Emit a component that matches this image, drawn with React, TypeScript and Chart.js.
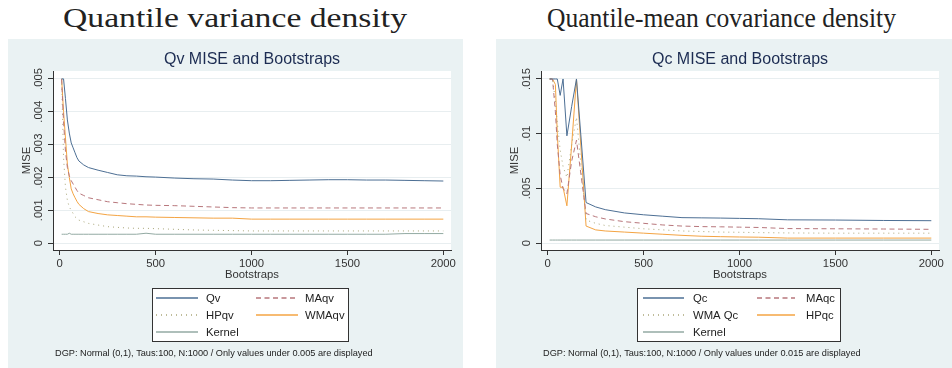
import React, { useEffect, useRef } from 'react';
import { Chart, registerables } from 'chart.js';

Chart.register(...registerables);

const SANS = '"Liberation Sans", Arial, sans-serif';

// ---------- Data: left panel (Quantile variance density) ----------
const bootstrapsLeft = [10, 20, 30, 40, 50, 60, 70, 80, 90, 100, 125, 150, 200, 250, 300, 350, 400, 450, 500, 600, 700, 800, 900, 1000, 1100, 1200, 1300, 1400, 1500, 1600, 1700, 1800, 1900, 2000];
const qv = [0.005, 0.005, 0.0044, 0.00375, 0.00335, 0.00305, 0.0029, 0.00275, 0.0026, 0.0025, 0.00238, 0.0023, 0.00222, 0.00215, 0.00208, 0.00205, 0.00204, 0.00202, 0.00201, 0.00198, 0.00196, 0.00195, 0.00192, 0.0019, 0.0019, 0.00191, 0.00192, 0.00193, 0.00193, 0.00192, 0.00192, 0.00191, 0.0019, 0.00189];
const maqv = [0.005, 0.0037, 0.0028, 0.0023, 0.00205, 0.0019, 0.0018, 0.0017, 0.0016, 0.00152, 0.00145, 0.00138, 0.00132, 0.00126, 0.00123, 0.0012, 0.00118, 0.00116, 0.00115, 0.00114, 0.00112, 0.0011, 0.00108, 0.00107, 0.00107, 0.00107, 0.00107, 0.00107, 0.00107, 0.00107, 0.00107, 0.00107, 0.00107, 0.00107];
const hpqv = [0.005, 0.0026, 0.0017, 0.0013, 0.0011, 0.001, 0.0009, 0.0008, 0.00075, 0.0007, 0.00065, 0.0006, 0.00055, 0.0005, 0.00048, 0.00046, 0.00045, 0.00045, 0.00044, 0.00042, 0.0004, 0.00039, 0.00038, 0.00037, 0.00037, 0.00037, 0.00037, 0.00037, 0.00037, 0.00037, 0.00037, 0.00037, 0.00037, 0.00037];
const wmaqv = [0.005, 0.004, 0.0032, 0.0024, 0.002, 0.00165, 0.0015, 0.00138, 0.00127, 0.00118, 0.00105, 0.00096, 0.0009, 0.00086, 0.00084, 0.00082, 0.0008, 0.0008, 0.00079, 0.00078, 0.00077, 0.00076, 0.00076, 0.00073, 0.00073, 0.00073, 0.00073, 0.00073, 0.00073, 0.00073, 0.00073, 0.00073, 0.00073, 0.00073];
const kernelLeft = [0.00027, 0.00027, 0.00027, 0.00027, 0.0003, 0.00027, 0.00027, 0.00027, 0.00027, 0.00027, 0.00027, 0.00027, 0.00027, 0.00027, 0.00027, 0.00027, 0.00027, 0.0003, 0.00027, 0.00027, 0.00027, 0.00027, 0.00027, 0.00027, 0.00027, 0.00027, 0.00027, 0.00027, 0.00027, 0.00027, 0.00027, 0.00029, 0.00029, 0.00029];
const yTicksLeft = [0, 0.001, 0.002, 0.003, 0.004, 0.005];

// ---------- Data: right panel (Quantile-mean covariance density) ----------
const bootstrapsRight = [10, 25, 40, 50, 65, 80, 100, 125, 150, 200, 250, 300, 400, 500, 600, 700, 800, 900, 1000, 1100, 1250, 1500, 1750, 2000];
const qc = [0.015, 0.015, 0.015, 0.015, 0.0135, 0.015, 0.0098, 0.0125, 0.015, 0.0037, 0.0033, 0.00305, 0.00275, 0.00258, 0.00245, 0.00232, 0.0023, 0.00228, 0.00225, 0.00222, 0.00212, 0.0021, 0.00206, 0.00204];
const maqc = [0.015, 0.015, 0.012, 0.009, 0.0062, 0.005, 0.0045, 0.0075, 0.0094, 0.0027, 0.0024, 0.0022, 0.00195, 0.0018, 0.00165, 0.00155, 0.0015, 0.00148, 0.00145, 0.00142, 0.00132, 0.0013, 0.00128, 0.00125];
const wmaqc = [0.015, 0.015, 0.013, 0.011, 0.0085, 0.007, 0.006, 0.009, 0.0115, 0.0021, 0.0018, 0.0016, 0.00145, 0.0013, 0.0012, 0.0011, 0.00105, 0.001, 0.00098, 0.00095, 0.00092, 0.0009, 0.0009, 0.0009];
const hpqc = [0.015, 0.015, 0.0145, 0.01, 0.0051, 0.0051, 0.0034, 0.009, 0.015, 0.00155, 0.0012, 0.0011, 0.001, 0.0009, 0.0008, 0.0007, 0.00062, 0.00058, 0.00055, 0.00053, 0.00045, 0.00045, 0.00045, 0.00045];
const kernelRight = [0.00027, 0.00027, 0.00027, 0.00027, 0.00027, 0.00027, 0.00027, 0.00027, 0.00027, 0.00027, 0.00027, 0.00027, 0.00027, 0.00027, 0.00027, 0.00027, 0.00027, 0.00027, 0.00027, 0.00027, 0.00027, 0.00027, 0.00027, 0.00027];
const yTicksRight = [0, 0.005, 0.01, 0.015];

const xTicks = [0, 500, 1000, 1500, 2000];

// ---------- Styles ----------
const NAVY = '#4d6f94';
const MAROON = '#b8777c';
const GREEN = '#aaa77a';
const ORANGE = '#f4a443';
const TEAL = '#93aaa3';
const DASH = [5, 3.5];
const DOT = [1, 4];

const fmtY = (v: number) => (v === 0 ? '0' : String(+Number(v).toFixed(4)).replace(/^0\./, '.'));

function makePanelPlugin(spec: any) {
  const P = spec.panel;
  return {
    id: 'panelDeco',
    beforeDraw(chart: any) {
      const { ctx, width, height, chartArea } = chart;
      ctx.save();
      ctx.fillStyle = '#eaf2f3';
      ctx.fillRect(0, 0, width, height);
      ctx.fillStyle = '#ffffff';
      ctx.fillRect(chartArea.left, chartArea.top, chartArea.right - chartArea.left, chartArea.bottom - chartArea.top);
      ctx.restore();
    },
    afterDraw(chart: any) {
      const { ctx, chartArea } = chart;
      ctx.save();
      // plot title
      ctx.fillStyle = '#1c2c52';
      ctx.font = `16px ${SANS}`;
      ctx.textAlign = 'center';
      ctx.textBaseline = 'middle';
      ctx.fillText(P.title, (chartArea.left + chartArea.right) / 2, P.titleY);
      // legend box
      const [bx, by, bw, bh] = P.box;
      ctx.fillStyle = '#ffffff';
      ctx.fillRect(bx, by, bw, bh);
      ctx.strokeStyle = '#333333';
      ctx.lineWidth = 1;
      ctx.setLineDash([]);
      ctx.strokeRect(bx + 0.5, by + 0.5, bw, bh);
      ctx.font = `11.3px ${SANS}`;
      ctx.textAlign = 'left';
      P.items.forEach((it: any) => {
        const s = spec.series[it.ds];
        ctx.save();
        ctx.strokeStyle = s.color;
        ctx.lineWidth = 1.3;
        ctx.setLineDash(s.dash ? s.dash.slice() : []);
        ctx.beginPath();
        ctx.moveTo(it.x1, it.y);
        ctx.lineTo(it.x2, it.y);
        ctx.stroke();
        ctx.restore();
        ctx.fillStyle = '#222222';
        ctx.fillText(s.label, it.tx, it.y + 0.5);
      });
      // note
      ctx.font = `9.2px ${SANS}`;
      ctx.fillStyle = '#222222';
      ctx.fillText(P.note, P.noteX, P.noteY);
      ctx.restore();
    },
  };
}

function buildChart(canvas: HTMLCanvasElement, spec: any) {
  const H = spec.height;
  const datasets = spec.series.map((s: any) => ({
    label: s.label,
    data: spec.xs.map((x: number, i: number) => ({ x, y: s.values[i] })),
    borderColor: s.color,
    borderWidth: 1,
    borderDash: s.dash || [],
    pointRadius: 0,
    tension: 0,
    fill: false,
  }));
  return new Chart(canvas, {
    type: 'line',
    data: { datasets },
    options: {
      animation: false,
      responsive: false,
      devicePixelRatio: 1,
      layout: { padding: { top: 32, left: 0, right: spec.padRight, bottom: 0 } },
      plugins: {
        legend: { display: false },
        tooltip: { enabled: false },
        title: { display: false },
      },
      scales: {
        x: {
          type: 'linear',
          min: -35,
          max: 2040,
          afterBuildTicks: (s: any) => {
            s.ticks = xTicks.map((v) => ({ value: v }));
          },
          afterFit: (s: any) => {
            s.height = H - 211;
          },
          ticks: {
            padding: 2,
            autoSkip: false,
            maxRotation: 0,
            color: '#333',
            font: { family: SANS, size: 11.3 },
            callback: (v: any) => String(v),
          },
          grid: { drawOnChartArea: false, tickLength: 5, tickColor: '#333' },
          border: { display: true, color: '#333', width: 1 },
          title: {
            display: true,
            text: 'Bootstraps',
            color: '#333',
            font: { family: SANS, size: 11.3 },
            padding: { top: 0, bottom: 86 },
          },
        },
        y: {
          type: 'linear',
          min: spec.yMin,
          max: spec.yMax,
          afterBuildTicks: (s: any) => {
            s.ticks = spec.yTicks.map((v: number) => ({ value: v }));
          },
          afterFit: (s: any) => {
            s.width = 45;
          },
          ticks: {
            minRotation: 90,
            maxRotation: 90,
            crossAlign: 'center',
            padding: -1.5,
            autoSkip: false,
            color: '#333',
            font: { family: SANS, size: 11.3 },
            callback: (v: any) => fmtY(v),
          },
          grid: { color: '#e8eef0', tickLength: 5, tickColor: '#333' },
          border: { display: true, color: '#333', width: 1 },
          title: {
            display: true,
            text: 'MISE',
            color: '#333',
            font: { family: SANS, size: 11.3 },
            padding: { top: 12, bottom: 0 },
          },
        },
      },
    } as any,
    plugins: [makePanelPlugin(spec) as any],
  });
}

const leftSpec = {
  height: 329,
  padRight: 12,
  xs: bootstrapsLeft,
  yMin: -0.00021,
  yMax: 0.00524,
  yTicks: yTicksLeft,
  series: [
    { label: 'Qv', values: qv, color: NAVY },
    { label: 'MAqv', values: maqv, color: MAROON, dash: DASH },
    { label: 'HPqv', values: hpqv, color: GREEN, dash: DOT },
    { label: 'WMAqv', values: wmaqv, color: ORANGE },
    { label: 'Kernel', values: kernelLeft, color: TEAL },
  ],
  panel: {
    title: 'Qv MISE and Bootstraps',
    titleY: 21,
    box: [144, 249, 196, 53],
    items: [
      { ds: 0, x1: 148, x2: 190, tx: 198, y: 259 },
      { ds: 1, x1: 248, x2: 290, tx: 297, y: 259 },
      { ds: 2, x1: 148, x2: 190, tx: 198, y: 276 },
      { ds: 3, x1: 248, x2: 290, tx: 297, y: 276 },
      { ds: 4, x1: 148, x2: 190, tx: 198, y: 293 },
    ],
    note: 'DGP: Normal (0,1), Taus:100, N:1000 / Only values under 0.005 are displayed',
    noteX: 47,
    noteY: 314,
  },
};

const rightSpec = {
  height: 329,
  padRight: 13,
  xs: bootstrapsRight,
  yMin: -0.00064,
  yMax: 0.01573,
  yTicks: yTicksRight,
  series: [
    { label: 'Qc', values: qc, color: NAVY },
    { label: 'MAqc', values: maqc, color: MAROON, dash: DASH },
    { label: 'WMA Qc', values: wmaqc, color: GREEN, dash: DOT },
    { label: 'HPqc', values: hpqc, color: ORANGE },
    { label: 'Kernel', values: kernelRight, color: TEAL },
  ],
  panel: {
    title: 'Qc MISE and Bootstraps',
    titleY: 21,
    box: [141, 249, 203, 53],
    items: [
      { ds: 0, x1: 147, x2: 188, tx: 197, y: 259 },
      { ds: 1, x1: 261, x2: 299, tx: 310, y: 259 },
      { ds: 2, x1: 147, x2: 188, tx: 197, y: 276 },
      { ds: 3, x1: 261, x2: 299, tx: 310, y: 276 },
      { ds: 4, x1: 147, x2: 188, tx: 197, y: 293 },
    ],
    note: 'DGP: Normal (0,1), Taus:100, N:1000 / Only values under 0.015 are displayed',
    noteX: 47,
    noteY: 314,
  },
};

export default function App() {
  const leftRef = useRef<HTMLCanvasElement>(null);
  const rightRef = useRef<HTMLCanvasElement>(null);

  useEffect(() => {
    const a = buildChart(leftRef.current as HTMLCanvasElement, leftSpec);
    const b = buildChart(rightRef.current as HTMLCanvasElement, rightSpec);
    return () => {
      a.destroy();
      b.destroy();
    };
  }, []);

  const serif = '"Liberation Serif", "Times New Roman", serif';
  return (
    <div style={{ position: 'fixed', left: 0, top: 0, width: 952, height: 368, background: '#fff', overflow: 'hidden' }}>
      <svg width={952} height={39} style={{ position: 'absolute', left: 0, top: 0 }}>
        <text x={235} y={27} textAnchor="middle" fontFamily={serif} fontSize={27} fill="#222" textLength={344} lengthAdjust="spacingAndGlyphs">
          Quantile variance density
        </text>
        <text x={721.5} y={27} textAnchor="middle" fontFamily={serif} fontSize={27} fill="#222" textLength={349} lengthAdjust="spacingAndGlyphs">
          Quantile-mean covariance density
        </text>
      </svg>
      <canvas ref={leftRef} width={455} height={329} style={{ position: 'absolute', left: 8, top: 39, width: 455, height: 329 }} />
      <canvas ref={rightRef} width={456} height={329} style={{ position: 'absolute', left: 496, top: 39, width: 456, height: 329 }} />
    </div>
  );
}
